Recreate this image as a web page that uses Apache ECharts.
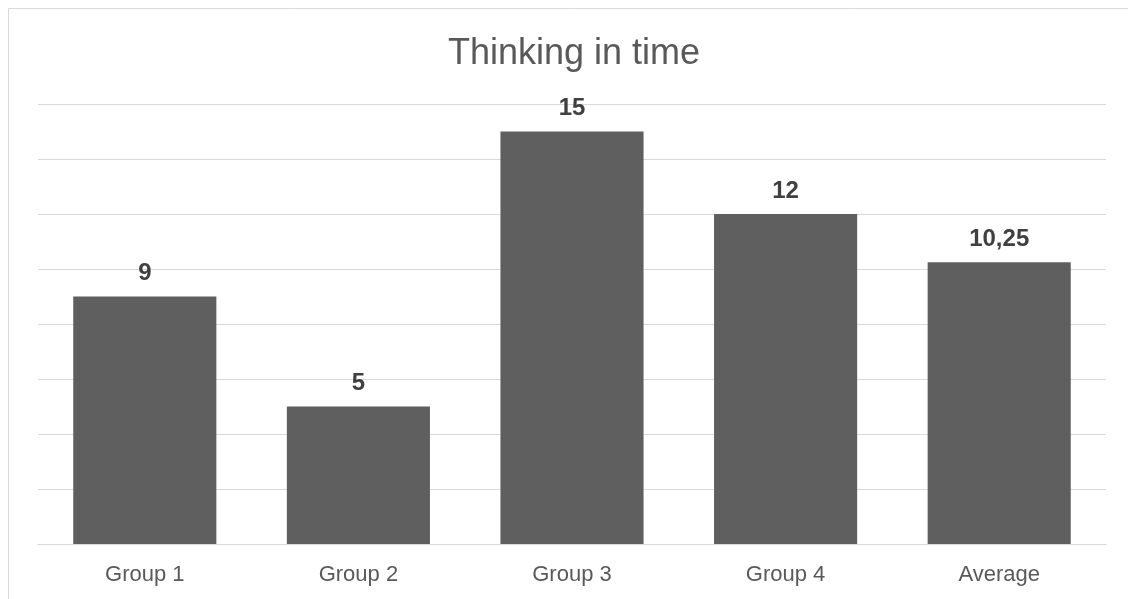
<!DOCTYPE html>
<html>
<head>
<meta charset="utf-8">
<script src="https://cdn.jsdelivr.net/npm/echarts@6/dist/echarts.min.js"></script>
<style>
  html, body { margin: 0; padding: 0; background: #ffffff; }
  #chart { width: 1128px; height: 599px; }
</style>
</head>
<body>
<div id="chart"></div>
<script>
// Thinking in time: counts per group plus their average
const categories = ['Group 1', 'Group 2', 'Group 3', 'Group 4', 'Average'];
const values = [9, 5, 15, 12, 10.25];
const chartTitle = 'Thinking in time';

const chart = echarts.init(document.getElementById('chart'), null, { renderer: 'canvas' });

chart.setOption({
  backgroundColor: '#ffffff',
  animation: false,
  title: {
    text: chartTitle,
    left: 443,
    top: 31,
    textStyle: {
      fontFamily: 'Liberation Sans, Arial, sans-serif',
      fontSize: 36,
      fontWeight: 'normal',
      color: '#595959'
    }
  },
  graphic: [{
    type: 'rect',
    shape: { x: 8.5, y: 8.5, width: 1200, height: 700 },
    style: { fill: 'none', stroke: '#d9d9d9', lineWidth: 1 },
    silent: true
  }],
  grid: { left: 38, right: 22, top: 104, bottom: 55 },
  xAxis: {
    type: 'category',
    data: categories,
    axisLine: { lineStyle: { color: '#d9d9d9', width: 1 } },
    axisTick: { show: false },
    axisLabel: {
      margin: 20,
      fontFamily: 'Liberation Sans, Arial, sans-serif',
      fontSize: 22,
      color: '#595959'
    }
  },
  yAxis: {
    type: 'value',
    min: 0,
    max: 16,
    interval: 2,
    axisLine: { show: false },
    axisTick: { show: false },
    axisLabel: { show: false },
    splitLine: { lineStyle: { color: '#d9d9d9', width: 1 } }
  },
  series: [{
    type: 'bar',
    data: values,
    barWidth: '67%',
    itemStyle: { color: '#5f5f5f' },
    label: {
      show: true,
      position: 'top',
      distance: 11,
      formatter: p => String(p.value).replace('.', ','),
      fontFamily: 'Liberation Sans, Arial, sans-serif',
      fontSize: 24,
      fontWeight: 'bold',
      color: '#404040'
    }
  }]
});
</script>
</body>
</html>
